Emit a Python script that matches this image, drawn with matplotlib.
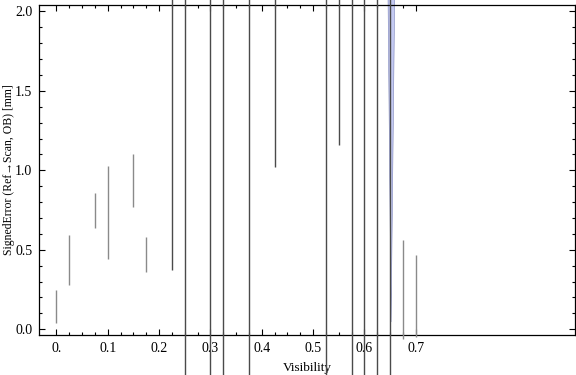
import matplotlib.pyplot as plt
import numpy as np

plt.rcParams['font.family'] = ['Liberation Serif', 'DejaVu Serif']

# visibility bins and signed error ranges (lower/upper ends of each bar)
visibility = [0.0, 0.025, 0.075, 0.1, 0.15, 0.175, 0.225, 0.25, 0.3, 0.325,
              0.375, 0.425, 0.525, 0.55, 0.575, 0.6, 0.625, 0.65, 0.675, 0.7]
err_low = [0.04, 0.28, 0.64, 0.44, 0.77, 0.36, 0.37, -3.0, -3.0, -3.0,
           -3.0, 1.02, -3.0, 1.16, -3.0, -3.0, -3.0, -3.0, -0.06, -0.05]
err_high = [0.25, 0.59, 0.86, 1.03, 1.10, 0.58, 5.0, 5.0, 5.0, 5.0,
            5.0, 5.0, 5.0, 5.0, 5.0, 5.0, 5.0, 5.0, 0.56, 0.47]

# thin blue band near visibility 0.65
band_y = [0.05, 2.1]
band_left = [0.651, 0.645]
band_right = [0.651, 0.658]

xticks = [0.0, 0.1, 0.2, 0.3, 0.4, 0.5, 0.6, 0.7]
xticklabels = ["0.", "0.1", "0.2", "0.3", "0.4", "0.5", "0.6", "0.7"]
yticks = [0.0, 0.5, 1.0, 1.5, 2.0]

fig = plt.figure(figsize=(5.76, 3.75), dpi=100)
ax = fig.add_axes([0.0682, 0.1067, 0.9298, 0.8808])

ax.fill_betweenx(band_y, band_left, band_right, color="#c4caf2",
                 edgecolor="#7a82b8", linewidth=0.4, clip_on=False, zorder=2)

colors = ["#8a8a8a" if (h - l) < 2 else "#4a4a4a" for l, h in zip(err_low, err_high)]
lc = ax.vlines(visibility, err_low, err_high, colors=colors, linewidth=1.0, zorder=3)
lc.set_clip_on(False)

ax.set_xlim(-0.0335, 1.01)
ax.set_ylim(-0.036, 2.042)

ax.set_xticks(xticks)
ax.set_xticklabels(xticklabels)
ax.set_xticks(np.arange(0, 0.701, 0.025), minor=True)
ax.set_yticks(yticks)
ax.set_yticklabels(["0.0", "0.5", "1.0", "1.5", "2.0"])
ax.set_yticks(np.arange(0, 2.01, 0.1), minor=True)

ax.tick_params(which="both", direction="in", top=True, right=True,
               labelsize=10, width=0.8, pad=5)
ax.tick_params(which="major", length=4)
ax.tick_params(which="minor", length=2.5)
for s in ax.spines.values():
    s.set_linewidth(0.9)

ax.set_xlabel("Visibility", fontsize=9.5, labelpad=5)
ax.set_ylabel("SignedError (Ref\u2192Scan, OB) [mm]", fontsize=8.5)
ax.yaxis.label.set_va("center")
ax.yaxis.set_label_coords(-0.056, 0.5)

fig.savefig("out.png", dpi=100)
